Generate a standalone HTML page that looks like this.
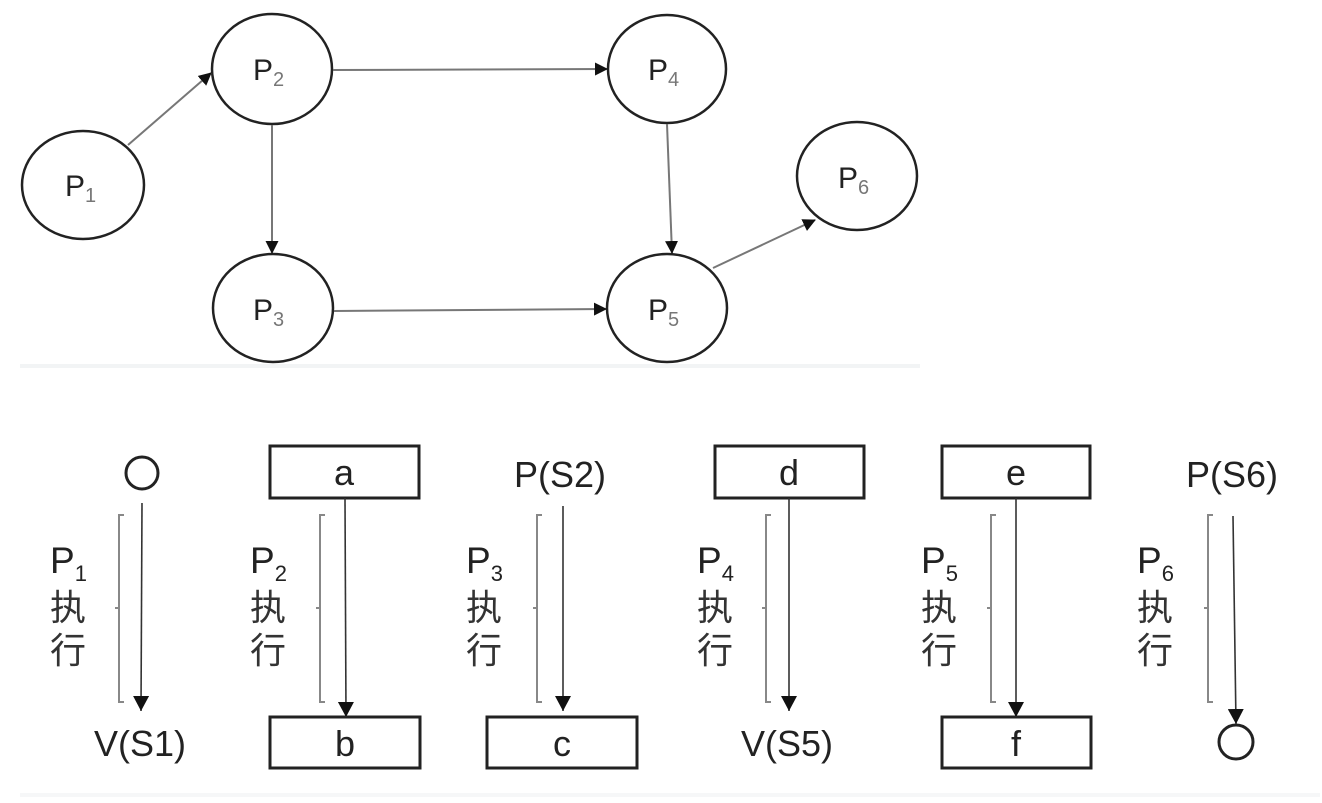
<!DOCTYPE html>
<html><head><meta charset="utf-8"><style>
html,body{margin:0;padding:0;background:#fff;}
svg{display:block;}
text{font-family:"Liberation Sans","Noto Sans CJK SC",sans-serif;fill:#222;}
.cj{font-family:"Noto Sans CJK SC","WenQuanYi Zen Hei",sans-serif;fill:#333;}
</style></head><body>
<svg width="1322" height="803" viewBox="0 0 1322 803" xmlns="http://www.w3.org/2000/svg">
<defs>
<marker id="ah" markerWidth="13" markerHeight="13" refX="12" refY="6.5" orient="auto" markerUnits="userSpaceOnUse">
<path d="M0,0 L13,6.5 L0,13 z" fill="#111"/></marker>
<marker id="ab" markerWidth="16" markerHeight="16" refX="15" refY="8" orient="auto" markerUnits="userSpaceOnUse">
<path d="M0,0 L15,8 L0,16 z" fill="#111"/></marker>
</defs>
<g fill="#fff" stroke="#222" stroke-width="2.5">
<ellipse cx="83" cy="185" rx="61" ry="54"/>
<ellipse cx="272" cy="69" rx="60" ry="55"/>
<ellipse cx="273" cy="308" rx="60" ry="54"/>
<ellipse cx="667" cy="69" rx="59" ry="54"/>
<ellipse cx="667" cy="308" rx="60" ry="54"/>
<ellipse cx="857" cy="176" rx="60" ry="54"/>
</g>
<g stroke="#777" stroke-width="2" fill="none">
<line x1="128" y1="145" x2="211" y2="73" marker-end="url(#ah)"/>
<line x1="333" y1="70" x2="607" y2="69" marker-end="url(#ah)"/>
<line x1="272" y1="125" x2="272" y2="253" marker-end="url(#ah)"/>
<line x1="334" y1="311" x2="606" y2="309" marker-end="url(#ah)"/>
<line x1="667" y1="124" x2="672" y2="253" marker-end="url(#ah)"/>
<line x1="713" y1="268" x2="815" y2="220" marker-end="url(#ah)"/>
</g>
<g font-size="30" fill="#333">
<text x="65" y="196">P<tspan font-size="20" dy="6" fill="#777">1</tspan></text>
<text x="253" y="80">P<tspan font-size="20" dy="6" fill="#777">2</tspan></text>
<text x="253" y="320">P<tspan font-size="20" dy="6" fill="#777">3</tspan></text>
<text x="648" y="80">P<tspan font-size="20" dy="6" fill="#777">4</tspan></text>
<text x="648" y="320">P<tspan font-size="20" dy="6" fill="#777">5</tspan></text>
<text x="838" y="188">P<tspan font-size="20" dy="6" fill="#777">6</tspan></text>
</g>
<line x1="20" y1="366" x2="920" y2="366" stroke="#f2f4f5" stroke-width="4"/>
<line x1="20" y1="795" x2="1320" y2="795" stroke="#f6f7f8" stroke-width="4"/>
<g fill="#fff" stroke="#222" stroke-width="3">
<circle cx="142" cy="473" r="16"/>
<rect x="270" y="446" width="149" height="52"/>
<rect x="715" y="446" width="149" height="52"/>
<rect x="942" y="446" width="148" height="52"/>
<rect x="270" y="717" width="150" height="51"/>
<rect x="487" y="717" width="150" height="51"/>
<rect x="942" y="717" width="149" height="51"/>
<circle cx="1236" cy="742" r="17"/>
</g>
<g font-size="36" text-anchor="middle">
<text x="344" y="485">a</text>
<text x="560" y="487">P(S2)</text>
<text x="789" y="485">d</text>
<text x="1016" y="485">e</text>
<text x="1232" y="487">P(S6)</text>
<text x="140" y="756">V(S1)</text>
<text x="345" y="756">b</text>
<text x="562" y="756">c</text>
<text x="787" y="756">V(S5)</text>
<text x="1016" y="756">f</text>
</g>
<g stroke="#333" stroke-width="1.6" fill="none">
<line x1="142" y1="503" x2="141" y2="711" marker-end="url(#ab)"/>
<line x1="345" y1="498" x2="346" y2="717" marker-end="url(#ab)"/>
<line x1="563" y1="506" x2="563" y2="711" marker-end="url(#ab)"/>
<line x1="789" y1="498" x2="789" y2="711" marker-end="url(#ab)"/>
<line x1="1016" y1="498" x2="1016" y2="717" marker-end="url(#ab)"/>
<line x1="1233" y1="516" x2="1236" y2="724" marker-end="url(#ab)"/>
</g>
<g stroke="#888" stroke-width="2" fill="none">
<path d="M124,515 H119 V702 H124 M119,608 H115"/>
<path d="M325,515 H320 V702 H325 M320,608 H316"/>
<path d="M542,515 H537 V702 H542 M537,608 H533"/>
<path d="M771,515 H766 V702 H771 M766,608 H762"/>
<path d="M996,515 H991 V702 H996 M991,608 H987"/>
<path d="M1213,515 H1208 V702 H1213 M1208,608 H1204"/>
</g>
<g font-size="37">
<text x="50" y="573">P<tspan font-size="22" dy="8">1</tspan></text>
<text x="250" y="573">P<tspan font-size="22" dy="8">2</tspan></text>
<text x="466" y="573">P<tspan font-size="22" dy="8">3</tspan></text>
<text x="697" y="573">P<tspan font-size="22" dy="8">4</tspan></text>
<text x="921" y="573">P<tspan font-size="22" dy="8">5</tspan></text>
<text x="1137" y="573">P<tspan font-size="22" dy="8">6</tspan></text>
</g>
<g font-size="36" class="cj">
<text class="cj" x="50" y="620">执</text><text class="cj" x="50" y="663">行</text>
<text class="cj" x="250" y="620">执</text><text class="cj" x="250" y="663">行</text>
<text class="cj" x="466" y="620">执</text><text class="cj" x="466" y="663">行</text>
<text class="cj" x="697" y="620">执</text><text class="cj" x="697" y="663">行</text>
<text class="cj" x="921" y="620">执</text><text class="cj" x="921" y="663">行</text>
<text class="cj" x="1137" y="620">执</text><text class="cj" x="1137" y="663">行</text>
</g>
</svg>
</body></html>
